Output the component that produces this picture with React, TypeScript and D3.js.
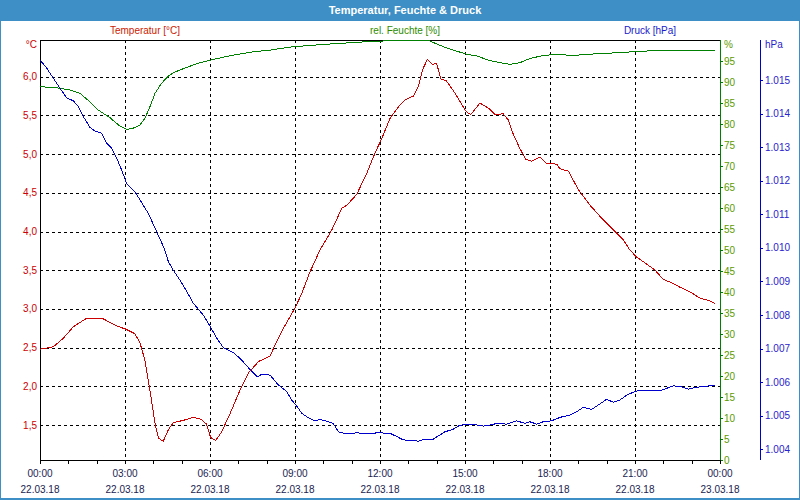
import React from "react";
import * as d3 from "d3";

const tempHours = [0,0.47,0.82,1.18,1.65,2.24,2.7,3.02,3.35,3.53,3.7,3.88,4.06,4.18,4.35,4.53,4.7,5.06,5.41,5.71,5.88,6.02,6.2,6.41,6.71,7.06,7.35,7.71,8.12,8.24,8.59,9.0,9.24,9.53,9.88,10.3,10.65,10.83,11.18,11.53,11.82,12.06,12.35,12.65,12.88,13.18,13.35,13.5,13.67,13.85,14.0,14.15,14.33,14.59,14.82,15.04,15.2,15.53,15.88,16.06,16.35,16.53,16.71,16.94,17.15,17.35,17.65,17.88,18.24,18.35,18.65,19.0,19.41,19.88,20.24,20.59,20.82,21.06,21.41,21.71,22.0,22.29,22.59,22.94,23.29,23.59,23.82];
const tempValues = [2.48,2.51,2.62,2.77,2.88,2.87,2.78,2.74,2.68,2.56,2.34,1.95,1.52,1.33,1.29,1.44,1.53,1.56,1.60,1.57,1.51,1.34,1.30,1.41,1.65,1.95,2.17,2.32,2.39,2.49,2.75,3.01,3.20,3.48,3.76,4.02,4.30,4.34,4.48,4.75,5.01,5.20,5.46,5.61,5.70,5.75,5.87,6.09,6.22,6.16,6.17,5.97,5.95,5.82,5.68,5.55,5.51,5.66,5.58,5.51,5.52,5.44,5.25,5.07,4.93,4.91,4.96,4.88,4.87,4.81,4.78,4.54,4.34,4.15,4.02,3.89,3.76,3.67,3.58,3.50,3.38,3.34,3.28,3.22,3.14,3.11,3.07];

const humHours = [0,0.59,1.06,1.41,1.76,2.06,2.47,2.82,3.06,3.29,3.53,3.7,3.88,4.06,4.29,4.53,4.7,5.18,5.65,6.12,6.82,7.53,8.12,8.94,10.12,11.3,12.24,12.6,13.7,13.88,14.24,14.59,15.06,15.41,15.88,16.24,16.59,16.94,17.29,17.76,18.24,18.82,19.29,20.0,20.59,21.06,21.65,23.82];
const humValues = [88.9,88.6,88.1,87.3,85.3,83.3,81.5,79.5,78.7,79.0,79.8,81.3,84.1,87.3,89.7,91.4,92.2,93.5,94.6,95.4,96.4,97.2,97.6,98.4,99.0,99.5,99.8,100,100,99.4,98.4,97.6,96.6,96.2,95.1,94.6,94.2,94.6,95.6,96.3,96.6,96.3,96.6,96.8,97.1,97.2,97.5,97.5];

const presHours = [0,0.24,0.47,0.71,0.94,1.18,1.35,1.53,1.76,1.94,2.18,2.35,2.53,2.71,2.88,3.06,3.35,3.53,3.82,4.12,4.38,4.53,4.7,4.94,5.18,5.41,5.76,6.0,6.24,6.47,6.82,7.06,7.41,7.67,7.82,8.12,8.41,8.71,8.88,9.06,9.24,9.47,9.71,9.88,10.12,10.35,10.53,10.82,11.18,11.65,11.88,12.35,12.59,12.82,13.24,13.35,13.59,13.88,14.06,14.29,14.59,14.82,15.29,15.65,15.88,16.12,16.47,16.82,17.12,17.29,17.53,17.76,18.06,18.35,18.71,18.94,19.18,19.47,19.76,20.0,20.24,20.47,20.76,21.12,21.53,21.88,22.35,22.65,22.88,23.18,23.65,23.82];
const presValues = [1.0156,1.01535,1.01505,1.01475,1.01447,1.01438,1.01421,1.01391,1.01359,1.01348,1.01341,1.01312,1.01297,1.01267,1.01232,1.01192,1.01167,1.01143,1.01103,1.01048,1.00999,1.00959,1.00934,1.00904,1.0087,1.00835,1.008,1.00767,1.00731,1.00703,1.00688,1.00671,1.00638,1.00616,1.00623,1.00621,1.00592,1.00572,1.00547,1.00529,1.00507,1.00494,1.00484,1.00489,1.00484,1.00477,1.00452,1.00446,1.00449,1.00446,1.00449,1.00448,1.00438,1.00428,1.00426,1.00424,1.0043,1.0043,1.0044,1.00452,1.0046,1.00472,1.00474,1.00469,1.00472,1.00477,1.00475,1.00485,1.00477,1.00482,1.00475,1.00482,1.00485,1.00495,1.00502,1.00512,1.00525,1.00519,1.00535,1.00549,1.0054,1.00547,1.00564,1.00575,1.00574,1.00574,1.00589,1.00586,1.00579,1.00585,1.00589,1.00589];

const tempTicks = [1.5, 2.0, 2.5, 3.0, 3.5, 4.0, 4.5, 5.0, 5.5, 6.0];
const humTicks = [0, 5, 10, 15, 20, 25, 30, 35, 40, 45, 50, 55, 60, 65, 70, 75, 80, 85, 90, 95];
const presTicks = [1.004, 1.005, 1.006, 1.007, 1.008, 1.009, 1.01, 1.011, 1.012, 1.013, 1.014, 1.015];
const timeTicks = [0, 3, 6, 9, 12, 15, 18, 21, 24];
const timeLabels = ["00:00", "03:00", "06:00", "09:00", "12:00", "15:00", "18:00", "21:00", "00:00"];
const dateLabels = ["22.03.18", "22.03.18", "22.03.18", "22.03.18", "22.03.18", "22.03.18", "22.03.18", "22.03.18", "23.03.18"];
const hourTicks = d3.range(0, 25);

const TITLE = "Temperatur, Feuchte & Druck";
const FONT = "'Liberation Sans', Arial, sans-serif";

export default function App() {
  const left = 40, right = 720, top = 40, bottom = 460, presAxisX = 760;
  const x = d3.scaleLinear().domain([0, 24]).range([left, right]);
  const yT = d3.scaleLinear().domain([1.048, 6.474]).range([bottom, top]);
  const yH = d3.scaleLinear().domain([0, 100]).range([bottom, top]);
  const yP = d3.scaleLinear().domain([1.003681, 1.016192]).range([bottom, top]);

  const mk = (hs: number[], vs: number[], ys: d3.ScaleLinear<number, number>) =>
    d3.line<number>().x((_, i) => x(hs[i])).y((v) => ys(v))(vs) || "";

  const tempPath = mk(tempHours, tempValues, yT);
  const humPath = mk(humHours, humValues, yH);
  const presPath = mk(presHours, presValues, yP);

  const r = (v: number) => Math.round(v) + 0.5;
  const blueBar = "#3d8fc6";

  return (
    <svg width={800} height={500} style={{ position: "absolute", left: 0, top: 0, background: "#fff" }} fontFamily={FONT}>
      <rect x={0} y={0} width={800} height={500} fill="#fff" />
      <rect x={0} y={0} width={800} height={21} fill={blueBar} />
      <text x={405} y={14} fill="#fff" fontSize={11} fontWeight="bold" textAnchor="middle">{TITLE}</text>
      <rect x={0.5} y={0.5} width={799} height={498} fill="none" stroke={blueBar} strokeWidth={1} />
      <line x1={0} x2={800} y1={499} y2={499} stroke={blueBar} strokeWidth={2} />

      <text x={145} y={34} fill="#cc2200" fontSize={10} textAnchor="middle">Temperatur [°C]</text>
      <text x={405} y={34} fill="#2e8b00" fontSize={10} textAnchor="middle">rel. Feuchte [%]</text>
      <text x={650} y={34} fill="#1a1acc" fontSize={10} textAnchor="middle">Druck [hPa]</text>

      {/* grid */}
      <g stroke="#000" strokeWidth={1} strokeDasharray="3,3" shapeRendering="crispEdges">
        {tempTicks.map((t) => (
          <line key={"h" + t} x1={left} x2={right} y1={r(yT(t))} y2={r(yT(t))} />
        ))}
        {timeTicks.slice(1, -1).map((t) => (
          <line key={"v" + t} x1={r(x(t))} x2={r(x(t))} y1={top} y2={bottom} />
        ))}
      </g>

      {/* frame */}
      <g shapeRendering="crispEdges">
        <line x1={left} x2={right} y1={top + 0.5} y2={top + 0.5} stroke="#000" />
        <line x1={left} x2={right} y1={bottom + 0.5} y2={bottom + 0.5} stroke="#000" />
        <line x1={left + 0.5} x2={left + 0.5} y1={top} y2={bottom + 1} stroke="#000" />
        <line x1={right + 0.5} x2={right + 0.5} y1={top} y2={bottom + 1} stroke="#008000" />
        <line x1={presAxisX + 0.5} x2={presAxisX + 0.5} y1={top} y2={bottom} stroke="#0000cc" />
      </g>

      {/* temp axis labels */}
      <text x={37} y={48} fill="#cc0000" fontSize={10} textAnchor="end">°C</text>
      {tempTicks.map((t) => (
        <text key={"tl" + t} x={37} y={yT(t) + 3.5} fill="#cc0000" fontSize={10} textAnchor="end">
          {t.toFixed(1).replace(".", ",")}
        </text>
      ))}

      {/* humidity axis */}
      <text x={724} y={48} fill="#5a9a00" fontSize={10}>%</text>
      {humTicks.map((t) => (
        <g key={"hl" + t}>
          <line x1={right} x2={right + 3} y1={r(yH(t))} y2={r(yH(t))} stroke="#008000" shapeRendering="crispEdges" />
          <text x={724} y={yH(t) + 3.5} fill="#5a9a00" fontSize={10}>{t}</text>
        </g>
      ))}

      {/* pressure axis */}
      <text x={765} y={48} fill="#2a22cc" fontSize={10}>hPa</text>
      {presTicks.map((t) => (
        <g key={"pl" + t}>
          <line x1={presAxisX} x2={presAxisX + 3} y1={r(yP(t))} y2={r(yP(t))} stroke="#0000cc" shapeRendering="crispEdges" />
          <text x={765} y={yP(t) + 3.5} fill="#2a22cc" fontSize={10}>{t.toFixed(3)}</text>
        </g>
      ))}

      {/* time axis */}
      {hourTicks.map((h) => (
        <line key={"ht" + h} x1={r(x(h))} x2={r(x(h))} y1={bottom} y2={bottom + 4} stroke="#000" shapeRendering="crispEdges" />
      ))}
      {timeTicks.map((t, i) => (
        <g key={"tt" + t}>
          <text x={x(t)} y={477} fill="#1a2350" fontSize={10} textAnchor="middle">{timeLabels[i]}</text>
          <text x={x(t)} y={493} fill="#1a2350" fontSize={10} textAnchor="middle">{dateLabels[i]}</text>
        </g>
      ))}

      {/* data */}
      <g fill="none" strokeWidth={1} shapeRendering="crispEdges">
        <path d={humPath} stroke="#008000" />
        <path d={presPath} stroke="#0000cc" />
        <path d={tempPath} stroke="#cc0000" />
      </g>
    </svg>
  );
}
